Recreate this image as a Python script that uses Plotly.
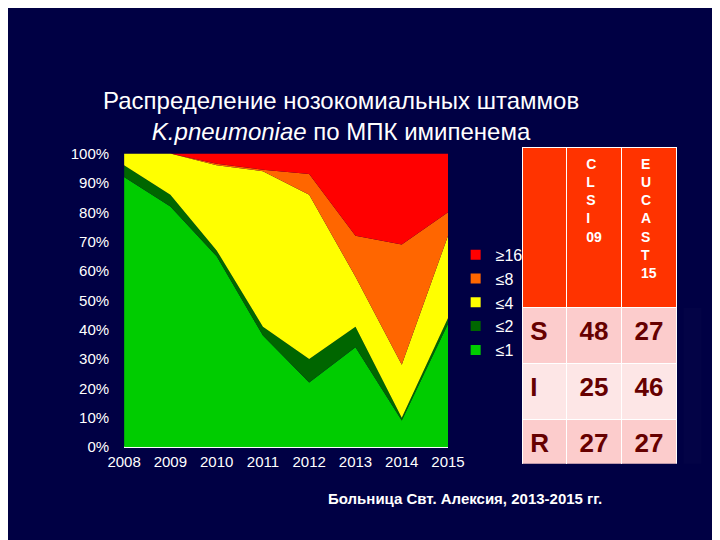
import plotly.graph_objects as go

years = [2008, 2009, 2010, 2011, 2012, 2013, 2014, 2015]
le1 = [92, 82, 65, 38, 22, 34, 9, 42]
le2 = [4, 4, 2, 3, 8, 7, 1, 2]
le4 = [4, 14, 29, 53, 56, 17, 18, 28]
le8 = [0, 0, 0.5, 0.5, 7, 14, 41, 8]
ge16 = [0, 0, 3.5, 5.5, 7, 28, 31, 20]
series = [("≤1", le1, "#00cc00"), ("≤2", le2, "#006600"), ("≤4", le4, "#ffff00"),
          ("≤8", le8, "#ff6600"), ("≥16", ge16, "#ff0000")]
yticks = list(range(0, 101, 10))

tbl_rows = ["S", "I", "R"]
clsi = ["48", "25", "27"]
eucast = ["27", "46", "27"]

fig = go.Figure()
for name, vals, col in series:
    fig.add_trace(go.Scatter(x=years, y=vals, name=name, stackgroup="one", mode="none",
                             fillcolor=col, line=dict(width=0), showlegend=False))
for name, vals, col in series:
    fig.add_trace(go.Scatter(x=[None], y=[None], name=name, mode="markers",
                             marker=dict(symbol="square", size=10, color=col)))

fig.add_trace(go.Table(
    domain=dict(x=[522/720, 684/720], y=[1-462/540, 1-135/540]),
    columnwidth=[46, 57, 57],
    header=dict(values=["", "<b>C<br>L<br>S<br>I<br>09</b>", "<b>E<br>U<br>C<br>A<br>S<br>T<br>15</b>"],
                fill_color="#ff3300", line_color="white", height=160, align="center",
                font=dict(family="Liberation Sans", size=14, color="white")),
    cells=dict(values=[["<b>%s</b>" % v for v in tbl_rows], ["<b>%s</b>" % v for v in clsi],
                       ["<b>%s</b>" % v for v in eucast]],
               fill_color=[["#fccccc", "#fde6e6", "#fccccc"]] * 3,
               line_color="white", height=56, align=["left", "center", "center"],
               font=dict(family="Liberation Sans", size=26, color="#660000"))))

fig.update_layout(
    width=720, height=540, margin=dict(l=0, r=0, t=0, b=0),
    paper_bgcolor="#000044", plot_bgcolor="#000044",
    font=dict(family="Liberation Sans", color="white"),
    xaxis=dict(domain=[104/720, 444/720], range=[2008, 2015], tickvals=years,
               showgrid=False, tickfont=dict(size=15, color="white"), ticks="", ticklabelstandoff=4),
    yaxis=dict(domain=[1-444/540, 1-141/540], range=[0, 100], tickvals=yticks,
               ticktext=["%d%%" % v for v in yticks], ticklabelstandoff=14,
               showgrid=False, tickfont=dict(size=15, color="white"), ticks=""),
    legend=dict(x=452/720, y=1-228/540, xanchor="left", yanchor="top", traceorder="reversed",
                font=dict(size=16, color="white"), bgcolor="rgba(0,0,0,0)",
                itemwidth=30, tracegroupgap=0),
)
fig.add_annotation(x=0.46, y=1-70/540, xref="paper", yref="paper", showarrow=False,
                   text="Распределение нозокомиальных штаммов<br><i>K.pneumoniae</i> по МПК имипенема",
                   font=dict(size=24, color="white"))
fig.add_annotation(x=462/720, y=1-508/540, xref="paper", yref="paper", showarrow=False,
                   text="<b>Больница Свт. Алексия, 2013-2015 гг.</b>",
                   font=dict(size=15, color="white"))
fig.write_html("out.html")
